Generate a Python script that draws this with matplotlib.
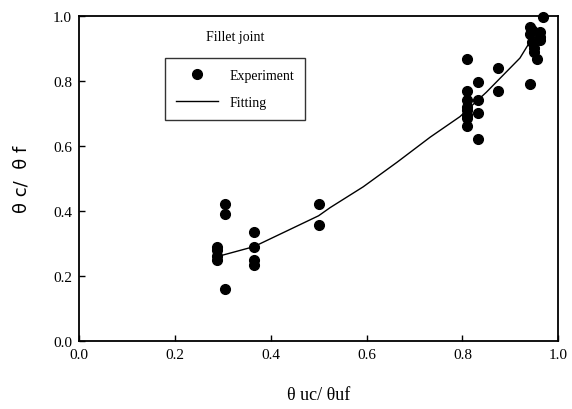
import matplotlib
matplotlib.use("Agg")
import matplotlib.pyplot as plt

# Experimental data
exp_x = [0.288, 0.288, 0.288, 0.288, 0.305, 0.305, 0.305,
         0.365, 0.365, 0.365, 0.365, 0.50, 0.50,
         0.81, 0.81, 0.81, 0.81, 0.81, 0.81, 0.81, 0.81,
         0.833, 0.833, 0.833, 0.833, 0.875, 0.875,
         0.94, 0.94, 0.945, 0.945, 0.95, 0.95, 0.955, 0.94,
         0.962, 0.962, 0.968, 0.962]
exp_y = [0.29, 0.28, 0.26, 0.25, 0.42, 0.39, 0.16,
         0.335, 0.29, 0.25, 0.235, 0.42, 0.357,
         0.868, 0.77, 0.74, 0.72, 0.71, 0.695, 0.685, 0.66,
         0.797, 0.74, 0.70, 0.62, 0.84, 0.77,
         0.966, 0.945, 0.955, 0.92, 0.90, 0.89, 0.868, 0.79,
         0.95, 0.935, 0.997, 0.925]

# Fitted curve
fit_x = [0.29, 0.365, 0.50, 0.524, 0.593, 0.664, 0.733, 0.795, 0.85, 0.92, 0.945]
fit_y = [0.26, 0.29, 0.385, 0.41, 0.474, 0.55, 0.627, 0.69, 0.765, 0.87, 0.93]

xticks = [0.0, 0.2, 0.4, 0.6, 0.8, 1.0]
yticks = [0.0, 0.2, 0.4, 0.6, 0.8, 1.0]

fig = plt.figure(figsize=(5.72, 4.10), dpi=100)
ax = fig.add_axes([0.138, 0.166, 0.838, 0.793])

serif = ["Liberation Serif", "DejaVu Serif"]

ax.plot(exp_x, exp_y, "o", color="black", markersize=7, label="Experiment",
        clip_on=False, zorder=3)
ax.plot(fit_x, fit_y, "-", color="black", linewidth=1.0, label="Fitting")

ax.set_xlim(0, 1)
ax.set_ylim(0, 1)
ax.set_xticks(xticks)
ax.set_yticks(yticks)
ax.set_xticklabels([f"{t:.1f}" for t in xticks], family=serif, fontsize=11)
ax.set_yticklabels([f"{t:.1f}" for t in yticks], family=serif, fontsize=11)
ax.tick_params(direction="in", length=4, width=1, pad=5)
for s in ax.spines.values():
    s.set_linewidth(1.3)

ax.set_xlabel("\u03b8 uc/ \u03b8uf", fontsize=13, family=serif, labelpad=18)
ax.set_ylabel("\u03b8 c/  \u03b8 f", fontsize=13, family=["DejaVu Sans"], labelpad=16)

ax.text(0.325, 0.935, "Fillet joint", transform=ax.transAxes, fontsize=10,
        family=serif, ha="center", va="center")

leg = ax.legend(loc="upper left", bbox_to_anchor=(0.18, 0.87), frameon=True,
                fancybox=False, edgecolor="black", prop={"family": serif, "size": 10},
                handlelength=3.0, borderpad=0.8, labelspacing=1.0, numpoints=1,
                borderaxespad=0)
leg.get_frame().set_linewidth(1.0)

fig.savefig("out.png", dpi=100)
